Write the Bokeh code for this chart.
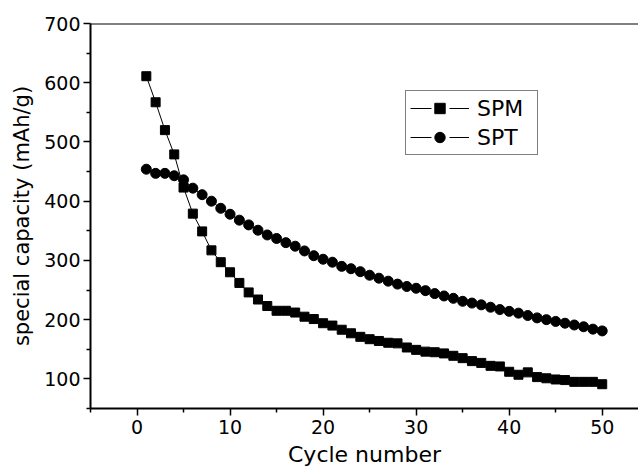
from bokeh.plotting import figure
from bokeh.models import FixedTicker, Span, Legend, LegendItem, Range1d
from bokeh.embed import file_html
from bokeh.resources import INLINE

cycles = list(range(1, 51))
spm = [611, 567, 520, 479, 423, 379, 349, 317, 297, 280,
       262, 246, 234, 223, 215, 215, 212, 205, 201, 194,
       190, 183, 177, 171, 167, 164, 161, 160, 153, 149,
       146, 145, 143, 139, 135, 130, 127, 122, 121, 112,
       107, 111, 103, 101, 99, 98, 95, 95, 95, 91]
spt = [454, 447, 447, 443, 436, 422, 411, 400, 388, 378,
       368, 360, 351, 343, 337, 330, 324, 316, 308, 302,
       297, 290, 286, 281, 275, 270, 265, 260, 256, 253,
       249, 244, 240, 236, 231, 228, 225, 221, 217, 214,
       211, 207, 203, 200, 197, 194, 191, 188, 184, 181]
x_major = [0, 10, 20, 30, 40, 50]
x_minor = [-5, 5, 15, 25, 35, 45, 55]
y_major = [100, 200, 300, 400, 500, 600, 700]
y_minor = [50, 150, 250, 350, 450, 550, 650]

FONT = "DejaVu Sans"

p = figure(width=638, height=472, output_backend="svg", toolbar_location=None,
           x_range=Range1d(-5, 53.9), y_range=Range1d(50, 700),
           min_border_left=90, min_border_right=0, min_border_top=23, min_border_bottom=64)
p.grid.visible = False
p.outline_line_color = None
p.background_fill_color = "white"
p.border_fill_color = "white"

p.line(cycles, spm, line_color="black", line_width=1)
s1 = p.scatter(cycles, spm, marker="square", size=9, fill_color="black", line_color="black")
p.line(cycles, spt, line_color="black", line_width=1)
s2 = p.scatter(cycles, spt, marker="circle", size=10, fill_color="black", line_color="black")

# legend-only line samples (kept outside the visible range), broken around the marker
off_x = [-100, -99]
off_y = [0, 0]
lg1 = p.line(x=off_x, y=off_y, line_color="black", line_width=1, line_dash="21 18")
lg2 = p.line(x=off_x, y=off_y, line_color="black", line_width=1, line_dash="21 18")

p.add_layout(Span(location=700, dimension="width", line_color="black", line_width=2))

for ax in (p.xaxis[0], p.yaxis[0]):
    ax.axis_line_width = 2
    ax.axis_line_color = "black"
    ax.major_tick_line_width = 1.5
    ax.minor_tick_line_width = 1.5
    ax.major_tick_line_color = "black"
    ax.minor_tick_line_color = "black"
    ax.major_tick_out = 7
    ax.major_tick_in = 0
    ax.minor_tick_out = 4
    ax.minor_tick_in = 0
    ax.major_label_text_font = FONT
    ax.major_label_text_font_size = "19px"
    ax.major_label_text_color = "black"
    ax.axis_label_text_font = FONT
    ax.axis_label_text_font_style = "normal"
    ax.axis_label_text_color = "black"

p.xaxis[0].ticker = FixedTicker(ticks=x_major, minor_ticks=x_minor)
p.yaxis[0].ticker = FixedTicker(ticks=y_major, minor_ticks=y_minor)
p.xaxis[0].axis_label = "Cycle number"
p.yaxis[0].axis_label = "special capacity (mAh/g)"
p.xaxis[0].axis_label_text_font_size = "22px"
p.yaxis[0].axis_label_text_font_size = "21px"
p.xaxis[0].major_label_standoff = 4
p.yaxis[0].major_label_standoff = 3
p.xaxis[0].axis_label_standoff = 5
p.yaxis[0].axis_label_standoff = 7

legend = Legend(items=[LegendItem(label="SPM", renderers=[lg1, s1]),
                       LegendItem(label="SPT", renderers=[lg2, s2])],
                location=(315, 253))
legend.glyph_width = 59
legend.glyph_height = 26
legend.label_height = 26
legend.label_width = 56
legend.spacing = 3
legend.padding = 4
legend.margin = 0
legend.label_standoff = 8
legend.label_text_font = FONT
legend.label_text_font_size = "22px"
legend.label_text_color = "black"
legend.border_line_color = "black"
legend.border_line_width = 1
legend.background_fill_alpha = 1
p.add_layout(legend)

open("out.html", "w").write(file_html(p, INLINE))
